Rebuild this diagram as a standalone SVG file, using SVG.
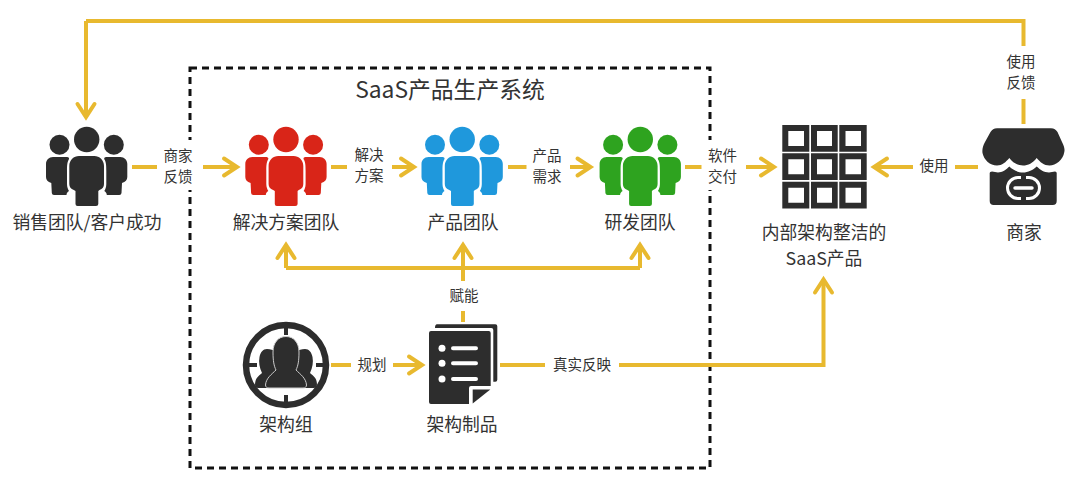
<svg xmlns="http://www.w3.org/2000/svg" width="1080" height="485" viewBox="0 0 1080 485">
<style>
text{font-family:"PingFang SC","Noto Sans CJK SC","Noto Sans",sans-serif;fill:#333;text-anchor:middle}
.m{font-size:17.8px}
.s{font-size:14.5px}
.t{font-size:22.8px}
.c{fill:none;stroke:#e8b92f;stroke-width:4}
.e{marker-end:url(#arrow)}
.d{fill:#2d2d2d}
</style>
<defs>
<marker id="arrow" markerUnits="userSpaceOnUse" markerWidth="24" markerHeight="24" refX="0" refY="0" viewBox="-20 -12 24 24" orient="auto" overflow="visible">
<path d="M-13-8.500L0 0L-13 8.500" fill="none" stroke="#e8b92f" stroke-width="4" stroke-linecap="round"/>
</marker>
<path id="side" d="M7 30H20C23.500 30 23.500 31.500 22.500 33C21.300 35.500 21 38 21 44V57C21 60 22 62.500 23 64C21.500 65 20.500 66 20.500 68H8Q6 68 5.800 66L5.300 56C1.800 55 0 53 0 50V37C0 33 3 30 7 30Z"/>
<symbol id="people" width="84" height="84" overflow="visible">
<circle cx="13.500" cy="17.700" r="10"/>
<circle cx="67.800" cy="17.700" r="10"/>
<circle cx="40.700" cy="12.500" r="12.700"/>
<use href="#side"/>
<use href="#side" transform="translate(81.300 0) scale(-1 1)"/>
<path d="M33 29H48.300C53.500 29 58 33 58 39V57C58 60 56.500 62 53.500 63L52.300 64V77Q52.300 79 50 79H31.500Q29.500 79 29.500 77V64L27.800 63C24.800 62 23.300 60 23.300 57V39C23.300 33 27.800 29 33 29Z"/>
</symbol>
<path id="archside" d="M267 349C274 349 279 353 280 358L286 388H258C255 388 254.500 385 255.500 381C256.500 377 260 375 262 373C259.500 368 258.500 362 259.500 357C260.500 352 263 349 267 349Z"/>
</defs>
<g id="boundary">
<rect x="190" y="68" width="520" height="400" fill="none" stroke="#111" stroke-width="3" stroke-dasharray="7 5"/>
<rect x="186" y="140" width="8" height="50" fill="#fff"/>
<rect x="706" y="140" width="8" height="50" fill="#fff"/>
<text class="t" x="450" y="98">SaaS产品生产系统</text>
</g>
<g id="connectors">
<path class="c" d="M1023.500 46V21H86"/>
<path class="c e" d="M86 21V117"/>
<path class="c" d="M1023.500 99V124"/>
<path class="c" d="M132 167H157"/>
<path class="c e" d="M203 167H237"/>
<path class="c" d="M331 167H347"/>
<path class="c e" d="M392 167H414"/>
<path class="c" d="M508 167H526.500"/>
<path class="c e" d="M570 167H590.500"/>
<path class="c" d="M685 167H701.500"/>
<path class="c e" d="M746 167H774"/>
<path class="c" d="M978 167H955"/>
<path class="c e" d="M913 167H874"/>
<path class="c" d="M286 268H640"/>
<path class="c e" d="M286 268V245"/>
<path class="c e" d="M640 268V245"/>
<path class="c e" d="M463 281V245"/>
<path class="c" d="M463 311V322"/>
<path class="c" d="M331 365H351"/>
<path class="c e" d="M393 365H422"/>
<path class="c" d="M500 365H545"/>
<path class="c e" d="M619 365H823.500V279.500"/>
</g>
<g id="sales"><use href="#people" x="46" y="127" fill="#2d2d2d"/><text class="m" x="87" y="228.500">销售团队/客户成功</text></g>
<g id="solution"><use href="#people" x="245.300" y="127" fill="#d92518"/><text class="m" x="286" y="228.500">解决方案团队</text></g>
<g id="product"><use href="#people" x="421.500" y="127" fill="#1f98dc"/><text class="m" x="463" y="228.500">产品团队</text></g>
<g id="dev"><use href="#people" x="599.600" y="127" fill="#2ea31f"/><text class="m" x="640" y="228.500">研发团队</text></g>
<g id="saas">
<path class="d" fill-rule="evenodd" d="M782.300 125h27v26.700h-27zM788.300 131v15h15.700v-15zM811 125h26.700v26.700h-26.700zM817 131v15h15v-15zM839.300 125h27.400v26.700h-27.400zM845.500 131v15h15.500v-15zM782.300 153.300h27v26.700h-27zM788.300 159.300v15h15.700v-15zM811 153.300h26.700v26.700h-26.700zM817 159.300v15h15v-15zM839.300 153.300h27.400v26.700h-27.400zM845.500 159.300v15h15.500v-15zM782.300 181.700h27v26.700h-27zM788.300 187.700v15h15.700v-15zM811 181.700h26.700v26.700h-26.700zM817 187.700v15h15v-15zM839.300 181.700h27.400v26.700h-27.400zM845.500 187.700v15h15.500v-15z"/>
<text class="m" x="824" y="238.500">内部架构整洁的</text><text class="m" x="824" y="264.500">SaaS产品</text>
</g>
<g id="merchant">
<path class="d" d="M997 128.300H1051C1054 128.300 1056 130 1057.500 132L1062 142C1064 146 1065 149 1064.300 152C1063 160 1056 165.500 1049.500 165.500C1044 165.500 1040 162 1036.700 158C1033 163 1028 165.500 1023 165.500C1018 165.500 1013 163 1009.300 158C1006 162 1002 165.500 997 165.500C990 165.500 984 160 982.500 153C982 149 983 146 985 142L990.500 132C992 130 994 128.300 997 128.300Z"/>
<path class="d" d="M992 171.500C994 171.500 996 172.500 998 172.500C1002 172.500 1006.500 169.500 1009.300 166.500C1013 170 1018 172.500 1023 172.500C1028 172.500 1033 170 1036.700 166.500C1040 169.500 1044 172.500 1049 172.500C1051 172.500 1053 171.500 1055 171.500Q1056.700 171.500 1056.700 173V201Q1056.700 205 1052.700 205H993.700Q989.700 205 989.700 201V173Q989.700 171.500 992 171.500Z"/>
<path d="M1021 177.500H1018A10.500 10.500 0 0 0 1018 198.500H1021M1026 177.500H1029A10.500 10.500 0 0 1 1029 198.500H1026" fill="none" stroke="#fff" stroke-width="3"/>
<path d="M1015 188H1032" stroke="#fff" stroke-width="3.500" stroke-linecap="round"/>
<text class="m" x="1024" y="238.500">商家</text>
</g>
<g id="arch">
<circle cx="286" cy="365" r="40" fill="none" stroke="#2d2d2d" stroke-width="6.500"/>
<path d="M286 326V335M286 395V404M248 365H257M316 365H324" stroke="#2d2d2d" stroke-width="4"/>
<use href="#archside" class="d"/>
<use href="#archside" class="d" transform="translate(572 0) scale(-1 1)"/>
<path class="d" stroke="#ccc" stroke-width="1" d="M286 336.500C294 336.500 299 343 299 352C299 361 298 366 296 370C300 374 306 378 306.500 385C306.500 387 305 388 303 388H269C267 388 265.500 387 265.500 385C266 378 272 374 276 370C274 366 273 361 273 352C273 343 278 336.500 286 336.500Z"/>
<text class="m" x="286" y="431">架构组</text>
</g>
<g id="artifact">
<path class="d" d="M437 324.300H495.300Q497.300 324.300 497.300 326.300V379.700Q497.300 381.700 495.300 381.700H493.300V330Q493.300 328 491.300 328H435Q435 324.300 437 324.300Z"/>
<path class="d" d="M431 331H488.700Q490.700 331 490.700 333V386H471Q469 386 469 388V404H431Q429 404 429 402V333Q429 331 431 331Z"/>
<path class="d" d="M472.700 389.500H490.300L472.700 403.500Z"/>
<circle cx="442" cy="348.300" r="3.500" fill="#fff"/><circle cx="442" cy="363.300" r="3.500" fill="#fff"/><circle cx="442" cy="379" r="3.500" fill="#fff"/>
<path d="M453 348.300H476M453 363.300H476M453 379H476" stroke="#fff" stroke-width="4" stroke-linecap="round"/>
<text class="m" x="462" y="431">架构制品</text>
</g>
<g id="labels">
<text class="s" x="178" y="161">商家</text><text class="s" x="178" y="182">反馈</text>
<text class="s" x="369" y="160">解决</text><text class="s" x="369" y="181">方案</text>
<text class="s" x="547" y="161">产品</text><text class="s" x="547" y="182">需求</text>
<text class="s" x="722.500" y="161">软件</text><text class="s" x="722.500" y="182">交付</text>
<text class="s" x="934" y="171">使用</text>
<text class="s" x="1021" y="67">使用</text><text class="s" x="1021" y="88">反馈</text>
<text class="s" x="464" y="301">赋能</text>
<text class="s" x="372" y="370">规划</text>
<text class="s" x="582" y="370">真实反映</text>
</g>
</svg>
